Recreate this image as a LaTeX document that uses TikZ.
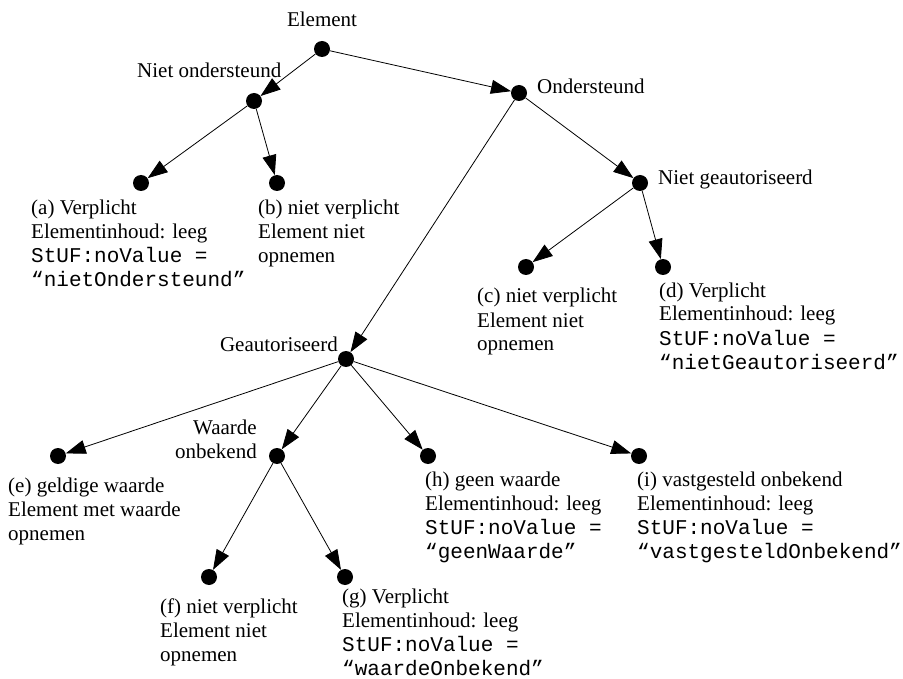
\documentclass[tikz,border=0pt]{standalone}
\usepackage{fontspec}
\setmainfont{Liberation Serif}
\setmonofont{Liberation Mono}
\usetikzlibrary{arrows.meta,positioning}

\begin{document}
\begin{tikzpicture}[x=1pt, y=-1pt,
  font=\fontsize{21}{24}\selectfont,
  pt/.style={circle, fill, inner sep=0pt, minimum size=16pt},
  lbl/.style={inner sep=0pt, align=left, anchor=base west},
  lblr/.style={lbl, align=right, anchor=base east},
  arr/.style={-{Triangle[length=20pt, width=14pt]}, line width=0.8pt}]
  \useasboundingbox (0,0) rectangle (903,679);
  % tree points
  \node[pt] (el) at (322,49) {};
  \node[pt] (nond) at (254,101) {};
  \node[pt] (ond) at (519,93) {};
  \node[pt] (a) at (141,183) {};
  \node[pt] (b) at (277,183) {};
  \node[pt] (ngeaut) at (640,183) {};
  \node[pt] (c) at (526,267) {};
  \node[pt] (d) at (663,267) {};
  \node[pt] (geaut) at (346,359) {};
  \node[pt] (e) at (58,456) {};
  \node[pt] (wonb) at (277,456) {};
  \node[pt] (h) at (428,456) {};
  \node[pt] (i) at (639,456) {};
  \node[pt] (f) at (209,577) {};
  \node[pt] (g) at (345,577) {};
  % labels (multi-line ones sit on the baseline of their last line)
  \node[lbl, anchor=base] (el-t) at (322,27) {Element};
  \node[lbl] (nond-t) at (137,78) {Niet ondersteund};
  \node[lbl] (ond-t) at (537,94) {Ondersteund};
  \node[lbl] (ngeaut-t) at (658,185) {Niet geautoriseerd};
  \node[lblr] (geaut-t) at (338,352) {Geautoriseerd};
  \node[lblr] (wonb-t) at (257,458) {Waarde\\onbekend};
  \node[lbl] (a-t) at (31,287) {(a) Verplicht\\Elementinhoud: leeg\\\texttt{StUF:noValue =}\\\texttt{“nietOndersteund”}};
  \node[lbl] (b-t) at (258,263) {(b) niet verplicht\\Element niet\\opnemen};
  \node[lbl] (c-t) at (477,351) {(c) niet verplicht\\Element niet\\opnemen};
  \node[lbl] (d-t) at (659,369) {(d) Verplicht\\Elementinhoud: leeg\\\texttt{StUF:noValue =}\\\texttt{“nietGeautoriseerd”}};
  \node[lbl] (e-t) at (8,540) {(e) geldige waarde\\Element met waarde\\opnemen};
  \node[lbl] (h-t) at (425,558) {(h) geen waarde\\Elementinhoud: leeg\\\texttt{StUF:noValue =}\\\texttt{“geenWaarde”}};
  \node[lbl] (i-t) at (637,558) {(i) vastgesteld onbekend\\Elementinhoud: leeg\\\texttt{StUF:noValue =}\\\texttt{“vastgesteldOnbekend”}};
  \node[lbl] (f-t) at (160,661) {(f) niet verplicht\\Element niet\\opnemen};
  \node[lbl] (g-t) at (342,675) {(g) Verplicht\\Elementinhoud: leeg\\\texttt{StUF:noValue =}\\\texttt{“waardeOnbekend”}};
  % edges
  \draw[arr] (el) -- (nond);
  \draw[arr] (el) -- (ond);
  \draw[arr] (nond) -- (a);
  \draw[arr] (nond) -- (b);
  \draw[arr] (ond) -- (ngeaut);
  \draw[arr] (ond) -- (geaut);
  \draw[arr] (ngeaut) -- (c);
  \draw[arr] (ngeaut) -- (d);
  \draw[arr] (geaut) -- (e);
  \draw[arr] (geaut) -- (wonb);
  \draw[arr] (geaut) -- (h);
  \draw[arr] (geaut) -- (i);
  \draw[arr] (wonb) -- (f);
  \draw[arr] (wonb) -- (g);
\end{tikzpicture}
\end{document}
